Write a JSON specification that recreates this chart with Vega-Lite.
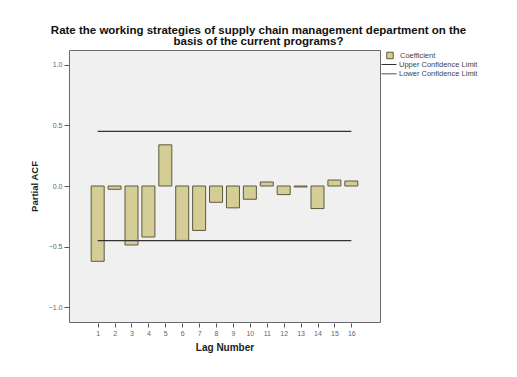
{
  "$schema": "https://vega.github.io/schema/vega-lite/v6.json",
  "width": 311,
  "height": 272,
  "autosize": {"type": "none"},
  "padding": {"left": 69, "top": 50, "right": 137, "bottom": 55},
  "background": "white",
  "title": {
    "text": ["Rate the working strategies of supply chain management department on the", "basis of the current programs?"],
    "font": "Liberation Sans",
    "fontSize": 11.5,
    "fontWeight": "bold",
    "color": "#111",
    "anchor": "middle",
    "dx": 34,
    "lineHeight": 10.5,
    "offset": 3
  },
  "config": {
    "view": {"fill": "#f0f0f0", "stroke": "#6a6a6a", "strokeWidth": 1},
    "axis": {"labelFont": "Liberation Sans", "titleFont": "Liberation Sans", "labelColor": "#666", "tickColor": "#555", "domain": false, "grid": false},
    "axisX": {"labelOverlap": false, "labelFlush": false, "tickCount": 20},
    "legend": {"labelFont": "Liberation Sans", "labelFontSize": 7.5, "labelColor": "#444", "padding": 0}
  },
  "datasets": {
    "acf": [
      {"lag": 1, "acf": -0.62, "series": "Coefficient"},
      {"lag": 2, "acf": -0.027, "series": "Coefficient"},
      {"lag": 3, "acf": -0.486, "series": "Coefficient"},
      {"lag": 4, "acf": -0.42, "series": "Coefficient"},
      {"lag": 5, "acf": 0.339, "series": "Coefficient"},
      {"lag": 6, "acf": -0.448, "series": "Coefficient"},
      {"lag": 7, "acf": -0.366, "series": "Coefficient"},
      {"lag": 8, "acf": -0.134, "series": "Coefficient"},
      {"lag": 9, "acf": -0.18, "series": "Coefficient"},
      {"lag": 10, "acf": -0.109, "series": "Coefficient"},
      {"lag": 11, "acf": 0.033, "series": "Coefficient"},
      {"lag": 12, "acf": -0.071, "series": "Coefficient"},
      {"lag": 13, "acf": -0.008, "series": "Coefficient"},
      {"lag": 14, "acf": -0.186, "series": "Coefficient"},
      {"lag": 15, "acf": 0.049, "series": "Coefficient"},
      {"lag": 16, "acf": 0.041, "series": "Coefficient"}
    ],
    "upper": [
      {"series": "Upper Confidence Limit", "value": 0.4497, "from": 1, "to": 16}
    ],
    "lower": [
      {"series": "Lower Confidence Limit", "value": -0.4497, "from": 1, "to": 16}
    ]
  },
  "layer": [
    {
      "data": {"name": "acf"},
      "mark": {"type": "bar", "width": 13, "stroke": "#5c583c", "strokeWidth": 1, "fillOpacity": 1},
      "encoding": {
        "x": {
          "field": "lag", "type": "quantitative",
          "scale": {"domain": [-0.4, 17.4], "nice": false, "zero": false},
          "axis": {"values": [1,2,3,4,5,6,7,8,9,10,11,12,13,14,15,16], "tickCount": 20, "labelOverlap": false, "title": "Lag Number", "titleFontSize": 10, "titleFontWeight": "bold", "titleColor": "#222", "titlePadding": 6, "labelFontSize": 7, "tickSize": 4, "offset": 1, "labelPadding": 2}
        },
        "y": {
          "field": "acf", "type": "quantitative",
          "scale": {"domain": [-1.12, 1.12], "nice": false},
          "axis": {"values": [-1, -0.5, 0, 0.5, 1], "format": ".1f", "title": "Partial ACF", "titleFontSize": 9.5, "titleFontWeight": "bold", "titleColor": "#222", "titlePadding": 9, "labelFontSize": 7, "tickSize": 5, "labelPadding": 2}
        },
        "y2": {"datum": 0},
        "fill": {
          "field": "series", "type": "nominal",
          "scale": {"domain": ["Coefficient"], "range": ["#d4cd96"]},
          "legend": {
            "title": null,
            "orient": "none",
            "legendX": 317,
            "legendY": 1.5,
            "symbolType": "square",
            "symbolSize": 42,
            "symbolStrokeColor": "#5c583c",
            "symbolStrokeWidth": 1,
            "symbolOpacity": 1,
            "labelOffset": 6
          }
        }
      }
    },
    {
      "data": {"name": "upper"},
      "mark": {"type": "rule", "strokeWidth": 1.2},
      "encoding": {
        "x": {"field": "from", "type": "quantitative"},
        "x2": {"field": "to"},
        "y": {"field": "value", "type": "quantitative"},
        "stroke": {
          "field": "series", "type": "nominal",
          "scale": {"domain": ["Upper Confidence Limit"], "range": ["#333333"]},
          "legend": {
            "title": null,
            "orient": "none",
            "legendX": 312,
            "legendY": 6.5,
            "symbolType": "stroke",
            "symbolSize": 225,
            "symbolStrokeWidth": 1,
            "labelOffset": 2
          }
        }
      }
    },
    {
      "data": {"name": "lower"},
      "mark": {"type": "rule", "strokeWidth": 1.2, "stroke": "#333333"},
      "encoding": {
        "x": {"field": "from", "type": "quantitative"},
        "x2": {"field": "to"},
        "y": {"field": "value", "type": "quantitative"},
        "strokeDash": {
          "field": "series", "type": "nominal",
          "scale": {"domain": ["Lower Confidence Limit"], "range": [[1, 0]]},
          "legend": {
            "title": null,
            "orient": "none",
            "legendX": 312,
            "legendY": 15.8,
            "symbolType": "stroke",
            "symbolSize": 225,
            "symbolStrokeColor": "#333333",
            "symbolStrokeWidth": 1,
            "labelOffset": 2
          }
        }
      }
    },
    {
      "mark": {"type": "rule", "color": "#333333", "strokeWidth": 1.2},
      "encoding": {"y": {"datum": 0}}
    }
  ]
}
